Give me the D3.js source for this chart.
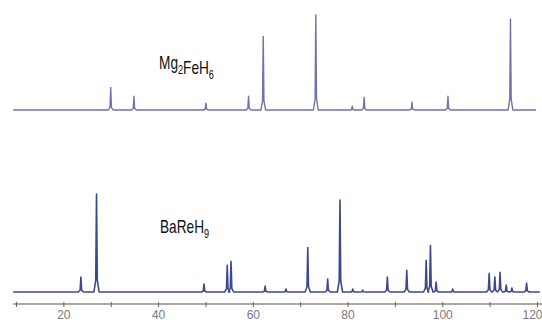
<!DOCTYPE html>
<html>
<head>
<meta charset="utf-8">
<script src="https://cdn.jsdelivr.net/npm/d3@7"></script>
<style>
  html, body { margin: 0; padding: 0; background: #fff; }
  svg { display: block; }
  text { font-family: "Liberation Sans", "DejaVu Sans", sans-serif; }
</style>
</head>
<body>
<div id="chart"></div>
<script>
// 2-theta range shown on the axis
const twoThetaRange = [10, 120];
const tickValues = [10, 20, 30, 40, 50, 60, 70, 80, 90, 100, 110, 120];
const tickLabels = ['', '20', '', '40', '', '60', '', '80', '', '100', '', '120'];

// Mg2FeH6 peaks (2-theta, intensity above baseline)
const mgPeakPos = [30.0, 34.9, 50.1, 59.1, 62.2, 73.3, 81.0, 83.5, 93.6, 101.2, 114.4];
const mgPeakInt = [23, 14, 7, 14, 75, 97, 4, 13, 8, 14, 93];
const mgSpan = [9.4, 119.8];

// BaReH9 peaks
const baPeakPos = [23.7, 27.0, 49.7, 54.6, 55.4, 62.6, 67.0, 71.6, 75.8, 78.4, 81.1, 83.2,
  88.4, 92.5, 96.6, 97.5, 98.7, 102.2, 109.9, 111.1, 112.2, 113.5, 114.7, 117.8];
const baPeakInt = [15, 99, 8, 27, 31, 6, 3, 45, 13, 93, 3, 2,
  15, 22, 32, 47, 10, 3, 19, 15, 20, 7, 4, 9];
const baSpan = [9.4, 120.6];

const width = 542, height = 324;

const svg = d3.select('#chart').append('svg')
  .attr('width', width)
  .attr('height', height);

const x = d3.scaleLinear().domain(twoThetaRange).range([16, 537]);

// each pattern gets its own vertical band
const yTop = d3.scaleLinear().domain([0, 100]).range([110, 12]);
const yBot = d3.scaleLinear().domain([0, 100]).range([292, 193]);

// turn a peak list into a polyline: flat baseline with narrow spikes
function profile(pos, inten, span, halfWidth) {
  const pts = [[span[0], 0]];
  pos.forEach((p, i) => {
    const h = inten[i];
    pts.push([p - halfWidth, 0]);
    pts.push([p - halfWidth * 0.3, h * 0.12]);
    pts.push([p, h]);
    pts.push([p + halfWidth * 0.3, h * 0.12]);
    pts.push([p + halfWidth, 0]);
  });
  pts.push([span[1], 0]);
  return pts;
}

function drawPattern(points, y, color, sw) {
  const line = d3.line()
    .x((d) => x(d[0]))
    .y((d) => y(d[1]));
  svg.append('path')
    .datum(points)
    .attr('d', line)
    .attr('fill', 'none')
    .attr('stroke', color)
    .attr('stroke-width', sw)
    .attr('stroke-linejoin', 'round');
}

drawPattern(profile(mgPeakPos, mgPeakInt, mgSpan, 0.5), yTop, '#7073ad', 1.4);
drawPattern(profile(baPeakPos, baPeakInt, baSpan, 0.55), yBot, '#3e4890', 1.6);

// x axis under the lower pattern
const axis = d3.axisBottom(x)
  .tickValues(tickValues)
  .tickSize(3)
  .tickFormat((d, i) => tickLabels[i]);

const gAxis = svg.append('g')
  .attr('transform', 'translate(0,304)')
  .call(axis);

gAxis.select('.domain')
  .attr('stroke', '#555')
  .attr('stroke-width', 1.2)
  .attr('d', `M${x(9.4)},0H${width}`);
gAxis.selectAll('.tick line')
  .attr('stroke', '#666')
  .attr('y1', -2);
gAxis.selectAll('.tick text')
  .attr('fill', '#7a7a7a')
  .attr('y', 6)
  .attr('font-size', 12)
  .attr('font-family', null);
// keep the last label inside the frame
gAxis.selectAll('.tick text')
  .filter((d) => d === twoThetaRange[1])
  .attr('text-anchor', 'end')
  .attr('dx', 5);

// compound labels with subscripts, squeezed to a condensed look
function label(xPos, yPos, parts) {
  const t = svg.append('text')
    .attr('transform', `translate(${xPos},${yPos}) scale(0.76,1)`)
    .attr('font-size', 18)
    .attr('fill', '#111');
  parts.forEach(([s, sub]) => {
    t.append('tspan')
      .attr('font-size', sub ? 12 : 18)
      .attr('dy', sub ? 5 : 0)
      .text(s);
    if (sub) t.append('tspan').attr('dy', -5).text('');
  });
}

label(159, 69, [['Mg', false], ['2', true], ['FeH', false], ['6', true]]);
label(160, 233, [['BaReH', false], ['9', true]]);
</script>
</body>
</html>
